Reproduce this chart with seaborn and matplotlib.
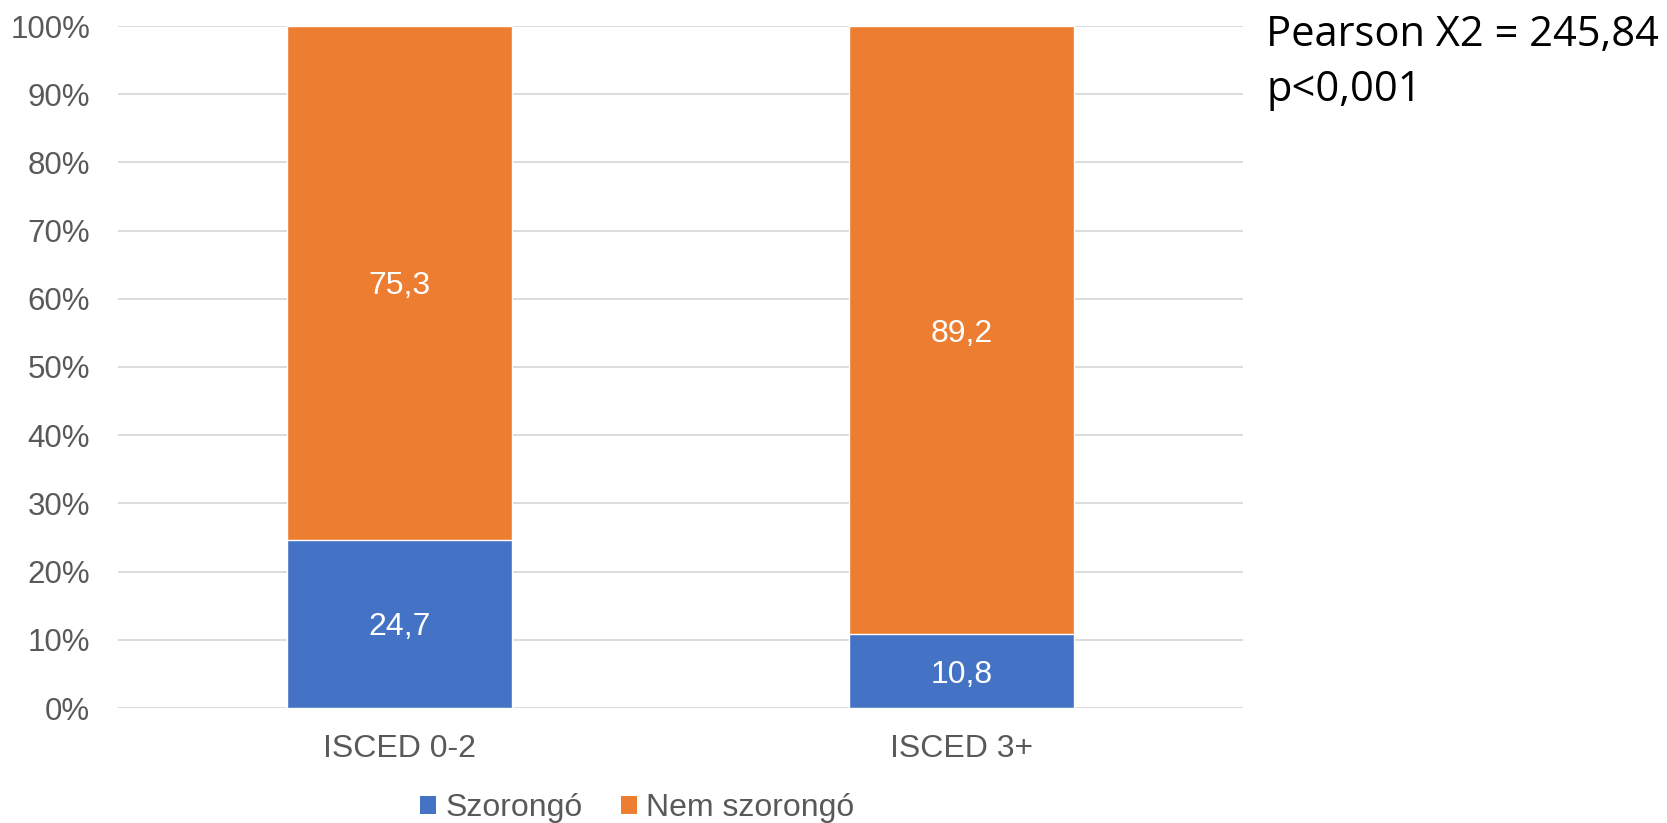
import matplotlib
matplotlib.use("Agg")
import matplotlib.pyplot as plt
import seaborn as sns
import pandas as pd
from matplotlib.patches import Patch

# Data: share of anxious vs. non-anxious respondents by education level (%)
categories = ["ISCED 0-2", "ISCED 3+"]
szorongo = [24.7, 10.8]
nem_szorongo = [75.3, 89.2]
series_names = ["Szorongó", "Nem szorongó"]
y_ticks = [0, 10, 20, 30, 40, 50, 60, 70, 80, 90, 100]
stat_lines = ["Pearson X2 = 245,84", "p<0,001"]

BLUE = "#4472C4"
ORANGE = "#ED7D31"
GRID = "#D9D9D9"
TEXT = "#595959"

sns.set_theme(style="white")
plt.rcParams["font.family"] = ["Liberation Sans", "DejaVu Sans"]

df = pd.DataFrame({
    "cat": categories,
    "low": szorongo,
    "high": nem_szorongo,
})
df["total"] = df["low"] + df["high"]

fig = plt.figure(figsize=(16.67, 8.23), dpi=100)
ax = fig.add_axes([118 / 1667, 1 - 708 / 823, (1243 - 118) / 1667, (708 - 26) / 823])

# Stacked bars: full height in orange, lower segment overlaid in blue
sns.barplot(data=df, x="cat", y="total", color=ORANGE, width=0.4,
            saturation=1, ax=ax, zorder=3)
sns.barplot(data=df, x="cat", y="low", color=BLUE, width=0.4,
            saturation=1, ax=ax, zorder=4)

ax.set_ylim(0, 100)
ax.set_xlim(-0.5, len(categories) - 0.5)
ax.set_yticks(y_ticks)
ax.set_yticklabels([f"{t}%" for t in y_ticks])
ax.set_xlabel("")
ax.set_ylabel("")
for s in ax.spines.values():
    s.set_visible(False)
ax.yaxis.grid(True, color=GRID, linewidth=1.3, zorder=0)
ax.xaxis.grid(False)
ax.set_axisbelow(True)
ax.tick_params(axis="y", length=0, pad=20, labelsize=22.5, labelcolor=TEXT)
ax.tick_params(axis="x", length=0, pad=19, labelsize=23, labelcolor=TEXT)


def fmt(v):
    return f"{v:.1f}".replace(".", ",")


for i, (lo, hi) in enumerate(zip(szorongo, nem_szorongo)):
    ax.text(i, lo / 2, fmt(lo), ha="center", va="center_baseline",
            color="white", fontsize=23, zorder=5)
    ax.text(i, lo + hi / 2, fmt(hi), ha="center", va="center_baseline",
            color="white", fontsize=23, zorder=5)

handles = [Patch(facecolor=BLUE, edgecolor="none"),
           Patch(facecolor=ORANGE, edgecolor="none")]
fig.legend(handles, series_names, loc="center",
           bbox_to_anchor=(637 / 1667, 1 - 808 / 823), ncol=2, frameon=False,
           fontsize=23, labelcolor=TEXT, handlelength=0.5, handleheight=0.5,
           handletextpad=0.3, columnspacing=1.2, borderaxespad=0, borderpad=0)

# Chi-square test result
fig.text(1266 / 1667, 1 - 46 / 823, stat_lines[0], ha="left", va="baseline",
         fontsize=30, color="black", family=["Open Sans", "DejaVu Sans"])
fig.text(1266 / 1667, 1 - 101 / 823, stat_lines[1], ha="left", va="baseline",
         fontsize=30, color="black", family=["Open Sans", "DejaVu Sans"])

fig.savefig("out.png", dpi=100)
